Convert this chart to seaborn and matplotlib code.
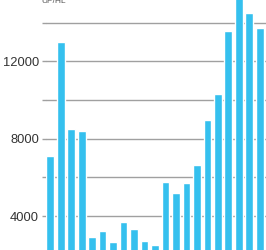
import matplotlib
matplotlib.use("Agg")
import matplotlib.pyplot as plt
import matplotlib.ticker as mticker
import seaborn as sns

categories = [str(i) for i in range(1, 22)]
values = [7085, 13000, 8500, 8390, 2900, 3230, 2670, 3670, 3330, 2710, 2500,
          5760, 5190, 5710, 6640, 8960, 10300, 13550, 15600, 14490, 13700]
major_ticks = [4000, 8000, 12000]
minor_ticks = [6000, 10000, 14000]
tick_labels = ["4000", "8000", "12000"]
y_title = "UP/HL"

sns.set_theme(style="white")
plt.rcParams['font.family'] = ['Liberation Sans', 'DejaVu Sans']

fig = plt.figure(figsize=(2.66, 2.50), dpi=100)
ax = fig.add_axes([46 / 266, 0, 1 - 46 / 266, 1])

sns.barplot(x=categories, y=values, color="#35C0EE", saturation=1, width=0.74,
            ax=ax, zorder=3)

ax.set_xlim(-0.40, 20.59)
ax.set_ylim(2242, 15169)
ax.yaxis.set_major_locator(mticker.FixedLocator(major_ticks))
ax.yaxis.set_major_formatter(mticker.FixedFormatter(tick_labels))
ax.yaxis.set_minor_locator(mticker.FixedLocator(minor_ticks))
ax.grid(False)
ax.yaxis.grid(True, which="both", color="#a0a0a0", linewidth=1.0, zorder=0)
ax.set_axisbelow(True)
ax.tick_params(axis="y", which="major", length=3, width=1, color="#a0a0a0",
               labelsize=9.3, labelcolor="#333333", pad=2, left=True)
ax.tick_params(axis="y", which="minor", length=3, width=1, color="#a0a0a0", left=True)
ax.tick_params(axis="x", bottom=False, labelbottom=False)
ax.set_xlabel("")
ax.set_ylabel("")
for s in ax.spines.values():
    s.set_visible(False)

fig.text(54 / 266, 1 - 1.5 / 250, y_title, ha="center", va="center", fontsize=6,
         color="#555555")

fig.savefig("out.png", dpi=100)
